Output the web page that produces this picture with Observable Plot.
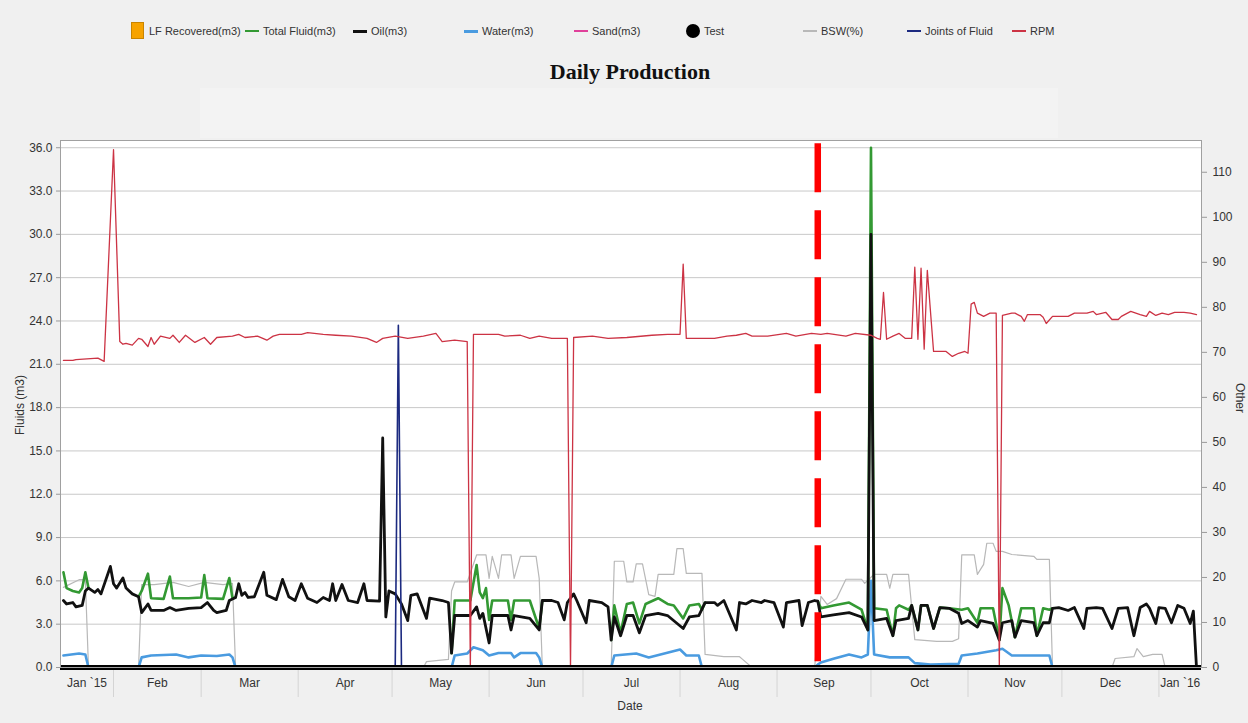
<!DOCTYPE html>
<html><head><meta charset="utf-8">
<script src="https://cdn.jsdelivr.net/npm/d3@7"></script>
<script src="https://cdn.jsdelivr.net/npm/@observablehq/plot@0.6"></script>
<style>
html,body{margin:0;padding:0;background:#f0f0f0;}
#wrap{position:relative;width:1248px;height:723px;overflow:hidden;background:#f0f0f0;font-family:"Liberation Sans",Arial,sans-serif;color:#333;}
#band{position:absolute;left:200px;top:88px;width:858px;height:50px;background:#f3f3f3;}
#chart{position:absolute;left:0;top:0;}
#title{position:absolute;left:630px;top:72px;transform:translate(-50%,-50%);font:bold 22px "Liberation Serif","Times New Roman",serif;color:#111;white-space:nowrap;}
.axt{position:absolute;font-size:12px;white-space:nowrap;color:#333;}
#ylab{left:20px;top:405px;transform:translate(-50%,-50%) rotate(-90deg);}
#rlab{left:1240px;top:398px;transform:translate(-50%,-50%) rotate(90deg);}
#xlab{left:630px;top:706px;transform:translate(-50%,-50%);}
.lg{position:absolute;top:23px;height:16px;font-size:11px;line-height:16px;white-space:nowrap;color:#333;}
.sym{position:absolute;}
</style></head><body>
<div id="wrap">
  <div id="band"></div>
  <div id="chart"></div>
  <div id="title">Daily Production</div>
  <div class="axt" id="ylab">Fluids (m3)</div>
  <div class="axt" id="rlab">Other</div>
  <div class="axt" id="xlab">Date</div>
  <div id="legend"></div>
</div>
<script>
// ---------- DATA (day = days since 2015-01-01) ----------
const oilDay = [15,16,18,19,21,22,23,25,26,27,30,31,32,34,35,37,39,40,42,43,47,49,51,55,59,61,63,64,67,68,70,71,72,73,74,76,79,80,83,85,87,89,91,93,96,98,100,101,102,104,106,109,111,112,116,117,118,119,121,123,125,126,128,131,132,136,138,139,140,145,147,148,149,151,152,157,158,159,164,167,168,171,173,175,176,178,179,182,183,187,189,190,191,193,195,197,199,201,205,208,213,215,218,220,223,224,226,230,231,233,235,238,239,242,245,246,250,251,253,255,256,257,261,266,270,272,273,274,278,280,281,285,286,288,289,291,293,295,298,301,302,304,307,308,312,314,315,318,319,321,325,326,328,330,331,333,336,338,341,342,345,347,350,352,355,357,359,361,362,364,365,367,369,371,373,375,376,377];
const oilValue = [4.64,4.4,4.5,4.2,4.3,5.3,5.5,5.2,5.4,5.1,7.0,5.8,5.5,6.2,5.5,5.1,4.9,3.8,4.4,3.95,3.95,4.15,3.95,4.1,4.15,4.5,3.95,3.8,3.95,4.64,4.85,5.8,5.0,5.2,4.85,4.9,6.6,5.0,4.7,6.1,4.9,4.64,5.8,4.8,4.5,4.85,4.64,5.8,4.64,5.75,4.64,4.5,5.8,4.64,4.6,15.9,3.5,5.3,5.1,4.4,3.25,5.0,5.1,3.4,4.8,4.64,4.5,1.0,3.6,3.6,4.2,3.4,3.75,1.7,3.6,3.6,2.6,3.6,3.4,2.6,4.64,4.64,4.5,3.3,4.5,5.1,4.64,3.1,4.64,4.5,4.2,1.9,3.5,2.2,3.6,3.6,2.4,3.6,3.75,3.6,2.7,3.5,3.6,4.5,4.5,4.3,4.64,2.6,4.5,4.4,4.64,4.5,4.64,4.5,2.8,4.5,4.64,2.9,4.5,4.64,4.6,3.5,3.65,3.8,3.5,2.6,30,3.25,3.4,2.2,3.25,3.4,4.3,2.6,4.3,4.3,2.7,4.15,4.1,3.75,3.05,3.25,2.8,3.25,3.05,1.9,3.1,3.25,2.1,3.25,3.1,2.2,3.1,3.1,4.1,4.15,3.95,4.15,2.7,4.1,4.15,4.1,2.7,4.1,4.15,2.2,4.15,4.4,4.1,3.05,4.15,4.1,3.1,4.3,4.1,3.05,3.9,0];

// null = no visible total-fluid line (hidden under oil)
const totalDay = [15,16,18,20,21,22,23,24, 39,40,42,43,47,49,50,55,59,60,61,66,68,69,70,71, 139,140,145,147,148,149,150,151,152,157,158,159,164,167,168,169, 190,191,193,195,197,199,201,205,208,210,213,215,218,219,220,221, 256,257,261,266,270,272,273,274,278,280,281,282,285,286,288,289,291,293,295,298,302,304,307,308,312,314,315,317,319,321,325,326,328,330,331];
const totalValue = [6.6,5.5,5.3,5.2,5.5,6.6,5.5,null, 4.9,5.3,6.5,4.8,4.75,6.3,4.8,4.8,4.85,6.4,4.8,4.75,6.2,4.8,4.85,null, 1.0,4.64,4.64,7.1,5.2,4.8,5.5,3.3,4.64,4.64,3.3,4.64,4.64,2.7,4.64,null, 1.9,4.3,2.4,4.4,4.5,3.05,4.4,4.8,4.4,4.3,3.4,4.3,4.4,4.0,4.5,null, 4.6,4.1,4.3,4.5,4.0,2.6,36,4.1,4.0,2.2,4.1,4.3,4.0,4.3,2.6,4.3,4.3,2.7,4.15,4.1,4.0,4.1,3.1,4.1,4.1,1.9,5.5,4.3,2.1,4.1,4.1,2.2,4.1,4.0,4.1];

const waterDay = [15,20,22,23,39,40,43,51,55,59,64,68,69,70,139,140,144,146,149,151,154,158,159,161,166,167,168,190,191,198,202,212,214,218,219,255,256,257,261,266,270,272,273,274,279,285,287,292,301,302,307,313,315,318,325,330,331,377];
const waterValue = [0.83,0.97,0.9,0,0,0.7,0.83,0.9,0.7,0.83,0.8,0.9,0.7,0,0,0.83,0.97,1.4,1.2,0.83,1.0,1.0,0.7,1.0,1.0,0.7,0,0,0.83,0.97,0.7,1.25,0.83,0.83,0,0,0.2,0.35,0.6,0.9,0.7,0.9,6.0,0.9,0.7,0.7,0.3,0.2,0.25,0.83,0.97,1.2,1.3,0.83,0.83,0.83,0,0];

const sandDay = [15,377];
const sandValue = [0,0];

const bswDay = [15,20,22,23,39,40,44,50,55,60,66,69,70,130,131,138,139,140,144,147,150,151,152,154,155,158,159,161,166,167,168,190,191,194,195,197,198,200,202,204,205,210,211,213,214,219,220,226,231,232,235,255,257,259,262,265,270,271,274,278,279,280,285,287,294,299,301,302,306,307,309,310,312,313,315,318,325,326,330,331,350,351,357,358,360,363,366,367,377];
const bswValue = [17.8,19.5,19.5,0,0,18.4,18.4,18.9,18.0,18.9,18.4,18.7,0,0,1.3,1.8,17,19,19,25,25,19.8,24.7,19.8,25,25,19.8,24.7,24.7,19.8,0,0,23.6,23.6,19,19,23,23,16.2,15.8,20.7,20.7,26.4,26.4,20.9,20.9,2.9,2.4,2.4,1.8,0,0,15.8,14,15.3,19.6,19.6,18.7,20.7,20.7,17.6,20.7,20.7,6.2,5.8,5.8,6.4,25,25,20.7,22.9,27.6,27.6,25.8,25.8,25.1,24.7,24,24,0,0,2,2.4,4.2,2.4,2.9,2.9,0,0];

const jointsDay = [15,121,122,123,377];
const jointsValue = [0,0,76,0,0];

const rpmDay = [15,18,19,26,28,31,33,34,35,37,39,40,42,43,44,46,49,50,52,54,57,60,62,64,69,71,73,77,80,82,84,91,93,98,102,107,112,115,117,121,125,130,134,136,140,144,145,146,154,156,161,164,167,171,176,177,178,184,189,195,203,208,212,213,214,219,223,227,230,233,235,240,246,249,254,257,259,265,268,273,275,276,277,278,280,282,284,286,287,288,289,290,291,293,297,299,301,303,304,305,306,307,309,311,313,314,315,318,319,321,322,323,327,328,329,331,336,338,342,344,345,348,350,352,353,356,359,361,362,364,366,368,370,373,375,377];
const rpmValue = [68.2,68.2,68.4,68.7,68.0,115,72.4,71.8,72.0,71.6,73.1,72.9,71.3,73.3,71.8,73.6,73.1,73.8,72.2,73.8,72.2,73.3,71.8,73.3,73.6,74.0,73.3,73.6,72.7,73.6,74.0,74.0,74.4,74.0,73.8,73.6,73.1,72.2,73.1,73.6,73.1,73.6,74.2,72.4,72.7,72.4,0,74.0,74.0,73.6,73.8,73.1,73.6,73.1,73.1,0,73.3,73.6,73.1,73.3,73.8,74.0,74.0,89.6,73.1,73.1,73.1,73.6,73.8,74.2,73.6,73.6,74.2,73.6,74.2,74.0,74.2,73.6,74.2,73.8,73.1,72.9,83.3,72.9,73.6,74.2,73.1,73.1,88.9,72.9,88.7,70.7,88.2,70.2,70.2,69.1,69.8,70.2,69.8,80.7,81.1,78.7,78.0,78.7,78.7,0,78.2,78.7,78.7,78.0,76.9,78.4,78.4,77.8,76.4,78.0,78.0,78.7,78.7,79.1,78.4,78.9,77.3,77.3,78.0,79.1,78.4,78.0,79.1,78.2,78.7,78.4,78.9,78.9,78.7,78.4];

const markerDate = "2015-09-14";   // red dashed marker
const leftTicks = [0,3,6,9,12,15,18,21,24,27,30,33,36];
const rightTicks = [0,10,20,30,40,50,60,70,80,90,100,110];
const monthLabels = ["Jan `15","Feb","Mar","Apr","May","Jun","Jul","Aug","Sep","Oct","Nov","Dec","Jan `16"];

const legendNames = ["LF Recovered(m3)","Total Fluid(m3)","Oil(m3)","Water(m3)","Sand(m3)","Test","BSW(%)","Joints of Fluid","RPM"];

// ---------- styling / layout ----------
const C = {total:"#339933", oil:"#111111", water:"#4a9be0", sand:"#e0409a", test:"#000000", bsw:"#b8b8b8", joints:"#1c2a80", rpm:"#cc3344", lf:"#f7a300"};
const k = 3.207; // right axis units per left axis unit
const base = Date.UTC(2015,0,1);
const toDate = d => new Date(base + d*864e5);
const series = (days, vals) => days.map((d,i) => ({date: toDate(d), value: vals[i]}));
const xDomain = [toDate(14.06), toDate(378.6)];

const monthStarts = d3.utcMonths(new Date(Date.UTC(2015,1,1)), new Date(Date.UTC(2016,0,2)));
const monthsAll = d3.utcMonths(new Date(Date.UTC(2015,0,1)), new Date(Date.UTC(2016,1,1)));
const monthMid = monthsAll.map((m,i) => {
  const s = Math.max(+m, +xDomain[0]);
  const e = Math.min(+d3.utcMonth.offset(m,1), +xDomain[1]);
  return {date: new Date((s+e)/2), label: monthLabels[i]};
});

const oil = series(oilDay, oilValue);
const total = series(totalDay, totalValue);
const water = series(waterDay, waterValue);
const sand = series(sandDay, sandValue);
const bsw = series(bswDay, bswValue);
const joints = series(jointsDay, jointsValue);
const rpm = series(rpmDay, rpmValue);

const chart = Plot.plot({
  width: 1248, height: 723,
  marginTop: 140, marginBottom: 56, marginLeft: 60, marginRight: 47,
  style: {background: "transparent", fontFamily: "'Liberation Sans', Arial, sans-serif", fontSize: "12px", color: "#333"},
  x: {type: "utc", domain: xDomain},
  y: {domain: [0, 36.5]},
  marks: [
    Plot.frame({fill: "white", stroke: "none"}),
    Plot.gridY(leftTicks, {stroke: "#c8c8c8", strokeOpacity: 1}),
    Plot.axisY(leftTicks, {anchor: "left", tickSize: 4, tickPadding: 4, tickFormat: d => d.toFixed(1), label: null, stroke: "#999"}),
    Plot.axisY(rightTicks.map(v => v / k), {anchor: "right", tickSize: 5, tickPadding: 6, tickFormat: d => String(Math.round(d * k)), label: null, stroke: "#999"}),
    Plot.axisX(monthStarts, {tickSize: 30, tickFormat: () => "", stroke: "#d4d4d4", label: null}),
    Plot.text(monthMid, {x: "date", text: "label", frameAnchor: "bottom", dy: 19, fill: "#333"}),
    Plot.line(bsw, {x: "date", y: d => d.value / k, stroke: C.bsw, strokeWidth: 1.2}),
    Plot.line(water, {x: "date", y: "value", stroke: C.water, strokeWidth: 2.6, strokeLinejoin: "round"}),
    Plot.line(total, {x: "date", y: "value", stroke: C.total, strokeWidth: 2.6, strokeLinejoin: "round"}),
    Plot.line(oil, {x: "date", y: "value", stroke: C.oil, strokeWidth: 2.8, strokeLinejoin: "round"}),
    Plot.line(sand, {x: "date", y: "value", stroke: C.sand, strokeWidth: 1.2}),
    Plot.line(joints, {x: "date", y: d => d.value / k, stroke: C.joints, strokeWidth: 1.6}),
    Plot.line(rpm, {x: "date", y: d => d.value / k, stroke: C.rpm, strokeWidth: 1.3}),
    Plot.ruleY([0], {stroke: C.test, strokeWidth: 5}),
    Plot.ruleX([new Date(markerDate)], {y1: 0.4, y2: 36.3, stroke: "#ff0000", strokeWidth: 6.5, strokeDasharray: "49,18"}),
    Plot.frame({stroke: "#a0a0a0"})
  ]
});
document.getElementById("chart").appendChild(chart);

// ---------- legend ----------
const legendX = [131, 245, 353, 464, 574, 686, 803, 907, 1012];
const legendKind = ["square","line","line","line","line","circle","line","line","line"];
const legendColor = [C.lf, C.total, C.oil, C.water, C.sand, C.test, C.bsw, C.joints, C.rpm];
const legendWidth = [2, 2, 3, 3, 1.5, 0, 1.2, 2, 1.5];
const lg = document.getElementById("legend");
legendNames.forEach((name, i) => {
  const item = document.createElement("div");
  item.className = "lg";
  item.style.left = legendX[i] + "px";
  const s = document.createElement("div");
  s.className = "sym";
  if (legendKind[i] === "square") {
    Object.assign(s.style, {left: "0px", top: "-1px", width: "13px", height: "17px", background: legendColor[i], border: "1px solid #c98400", boxSizing: "border-box"});
  } else if (legendKind[i] === "circle") {
    Object.assign(s.style, {left: "0px", top: "1px", width: "14px", height: "14px", borderRadius: "50%", background: legendColor[i]});
  } else {
    Object.assign(s.style, {left: "0px", top: (8 - legendWidth[i] / 2) + "px", width: "14px", height: legendWidth[i] + "px", background: legendColor[i]});
  }
  item.appendChild(s);
  const t = document.createElement("span");
  t.textContent = name;
  t.style.marginLeft = "18px";
  item.appendChild(t);
  lg.appendChild(item);
});
</script>
</body></html>
